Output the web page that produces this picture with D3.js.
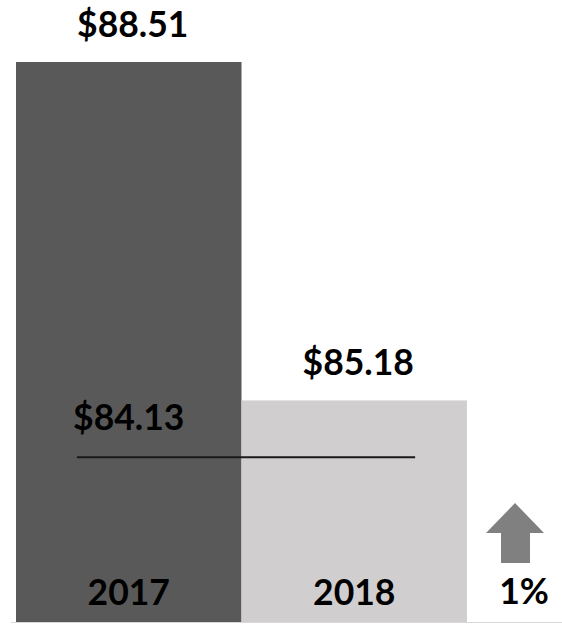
<!DOCTYPE html>
<html><head><meta charset="utf-8">
<script src="https://cdn.jsdelivr.net/npm/d3@7"></script>
<style>body{margin:0;background:#fff}svg{display:block}text{font-family:Lato,"Liberation Sans",sans-serif;font-weight:700;fill:#000}</style>
</head><body>
<script>
const years = ["2017", "2018"];
const values = [88.51, 85.18];
const valueLabels = ["$88.51", "$85.18"];
const benchmarkLabel = "$84.13";
const benchmarkLevel = 84.62; // drawn position of the reference line
const changeLabel = "1%";
const colors = ["#595959", "#d0cecf"];

const W = 562, H = 625;
const FS = 35.5;
const svg = d3.select("body").append("svg").attr("width", W).attr("height", H);

const x = d3.scaleBand().domain(years).range([16, 467]).padding(0);
const y = d3.scaleLinear().domain([83, 88.51]).range([622, 62]);

// baseline
svg.append("line").attr("x1", 11).attr("x2", W).attr("y1", 622.5).attr("y2", 622.5)
  .attr("stroke", "#d9d9d9").attr("stroke-width", 1);

svg.selectAll("rect.bar").data(years).enter().append("rect")
  .attr("class", "bar")
  .attr("x", d => x(d)).attr("width", x.bandwidth())
  .attr("y", (d, i) => y(values[i])).attr("height", (d, i) => y.range()[0] - y(values[i]))
  .attr("fill", (d, i) => colors[i]);

svg.selectAll("text.val").data(years).enter().append("text")
  .attr("class", "val")
  .attr("x", d => x(d) + x.bandwidth() / 2 + 4)
  .attr("y", (d, i) => y(values[i]) - 25)
  .attr("text-anchor", "middle").attr("font-size", FS)
  .text((d, i) => valueLabels[i]);

svg.selectAll("text.yr").data(years).enter().append("text")
  .attr("class", "yr")
  .attr("x", d => x(d) + x.bandwidth() / 2)
  .attr("y", 605)
  .attr("text-anchor", "middle").attr("font-size", FS)
  .text(d => d);

// reference line
const lx1 = x(years[0]) + x.bandwidth() * 0.27;
const lx2 = x(years[1]) + x.bandwidth() * 0.77;
svg.append("line").attr("x1", lx1).attr("x2", lx2)
  .attr("y1", y(benchmarkLevel)).attr("y2", y(benchmarkLevel))
  .attr("stroke", "#1a1a1a").attr("stroke-width", 2);
svg.append("text").attr("x", x(years[0]) + x.bandwidth() / 2)
  .attr("y", y(benchmarkLevel) - 27).attr("text-anchor", "middle").attr("font-size", FS)
  .text(benchmarkLabel);

// arrow
const ax = 515;
const arrow = d3.path();
arrow.moveTo(ax, 503);
arrow.lineTo(ax + 29, 533);
arrow.lineTo(ax + 15, 533);
arrow.lineTo(ax + 15, 563);
arrow.lineTo(ax - 14, 563);
arrow.lineTo(ax - 14, 533);
arrow.lineTo(ax - 29, 533);
arrow.closePath();
svg.append("path").attr("d", arrow.toString()).attr("fill", "#808080");

svg.append("text").attr("x", 524).attr("y", 604).attr("text-anchor", "middle")
  .attr("font-size", FS).text(changeLabel);
</script>
</body></html>
